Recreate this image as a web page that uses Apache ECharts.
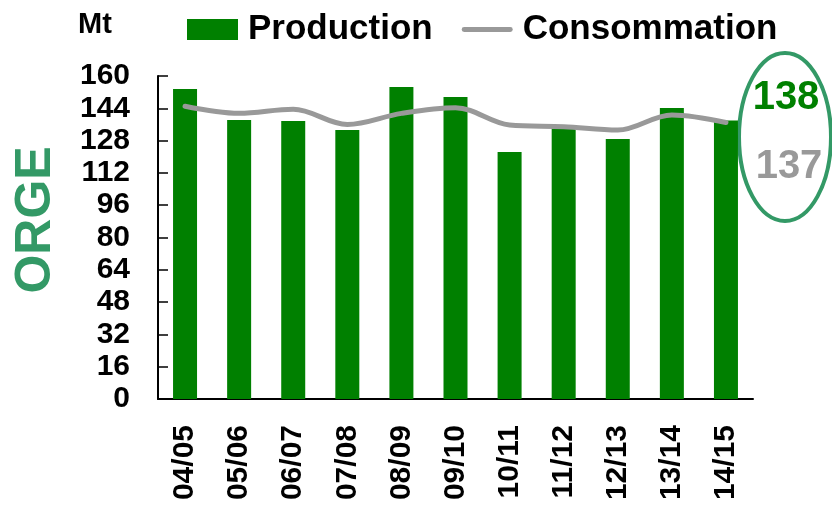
<!DOCTYPE html>
<html>
<head>
<meta charset="utf-8">
<script src="https://cdn.jsdelivr.net/npm/echarts@6/dist/echarts.min.js"></script>
<style>html,body{margin:0;padding:0;background:#fff}#c{width:832px;height:505px}</style>
</head>
<body>
<div id="c"></div>
<script>
var categories = ['04/05','05/06','06/07','07/08','08/09','09/10','10/11','11/12','12/13','13/14','14/15'];
var production = [153.5, 138.2, 137.7, 133.2, 154.5, 149.6, 122.3, 134.1, 128.8, 144.1, 138];
var consommation = [145, 141.5, 143.5, 136, 141.5, 144.3, 135.7, 134.9, 133.2, 140.7, 137];
var yTicks = {min: 0, max: 160, interval: 16};
var unitLabel = 'Mt';
var cropLabel = 'ORGE';
var lastProd = '138';
var lastCons = '137';

var FONT = '"Liberation Sans", Arial, sans-serif';
var chart = echarts.init(document.getElementById('c'), null, {renderer: 'canvas'});
chart.setOption({
  animation: false,
  backgroundColor: '#ffffff',
  grid: {left: 158, right: 79, top: 76, bottom: 106, containLabel: false},
  legend: {
    left: 187, top: 12, padding: 0,
    itemWidth: 51, itemHeight: 21, itemGap: 29,
    textStyle: {fontFamily: FONT, fontWeight: 'bold', fontSize: 35, color: '#000', padding: [0, 0, 0, 5]},
    data: [
      {name: 'Production', icon: 'rect'},
      {name: 'Consommation', icon: 'path://M2.5,0 L50.5,0 A2.5,2.5 0 0 1 50.5,5 L2.5,5 A2.5,2.5 0 0 1 2.5,0 Z'}
    ]
  },
  xAxis: {
    type: 'category',
    data: categories,
    axisLine: {lineStyle: {color: '#000', width: 2}},
    axisTick: {show: false},
    axisLabel: {rotate: 90, margin: 26, fontFamily: FONT, fontWeight: 'bold', fontSize: 30, color: '#000', interval: 0}
  },
  yAxis: {
    type: 'value',
    min: yTicks.min, max: yTicks.max, interval: yTicks.interval,
    splitLine: {show: false},
    axisLine: {show: true, lineStyle: {color: '#000', width: 2}},
    axisTick: {show: true, inside: true, length: 10, lineStyle: {color: '#000', width: 1.5}},
    axisLabel: {margin: 28, fontFamily: FONT, fontWeight: 'bold', fontSize: 30, color: '#000'}
  },
  series: [
    {
      name: 'Production', type: 'bar', data: production, barWidth: 24,
      itemStyle: {color: '#008000'}
    },
    {
      name: 'Consommation', type: 'line', data: consommation, smooth: 0.35,
      symbol: 'none', showSymbol: false,
      lineStyle: {color: '#999999', width: 5, cap: 'round'},
      itemStyle: {color: '#999999'}
    }
  ],
  graphic: [
    {type: 'text', left: 78, top: 10, style: {text: unitLabel, fontFamily: FONT, fontWeight: 'bold', fontSize: 29, fill: '#000'}},
    {type: 'text', x: 36, y: 220, rotation: Math.PI / 2, style: {text: cropLabel, fontFamily: FONT, fontWeight: 'bold', fontSize: 50, fill: '#339966', align: 'center', verticalAlign: 'middle'}},
    {type: 'ellipse', shape: {cx: 785, cy: 137, rx: 46, ry: 84}, style: {fill: 'none', stroke: '#339966', lineWidth: 4}},
    {type: 'text', x: 786, y: 98, style: {text: lastProd, fontFamily: FONT, fontWeight: 'bold', fontSize: 40, fill: '#008000', align: 'center', verticalAlign: 'middle'}},
    {type: 'text', x: 789, y: 167, style: {text: lastCons, fontFamily: FONT, fontWeight: 'bold', fontSize: 40, fill: '#999999', align: 'center', verticalAlign: 'middle'}}
  ]
});
</script>
</body>
</html>
